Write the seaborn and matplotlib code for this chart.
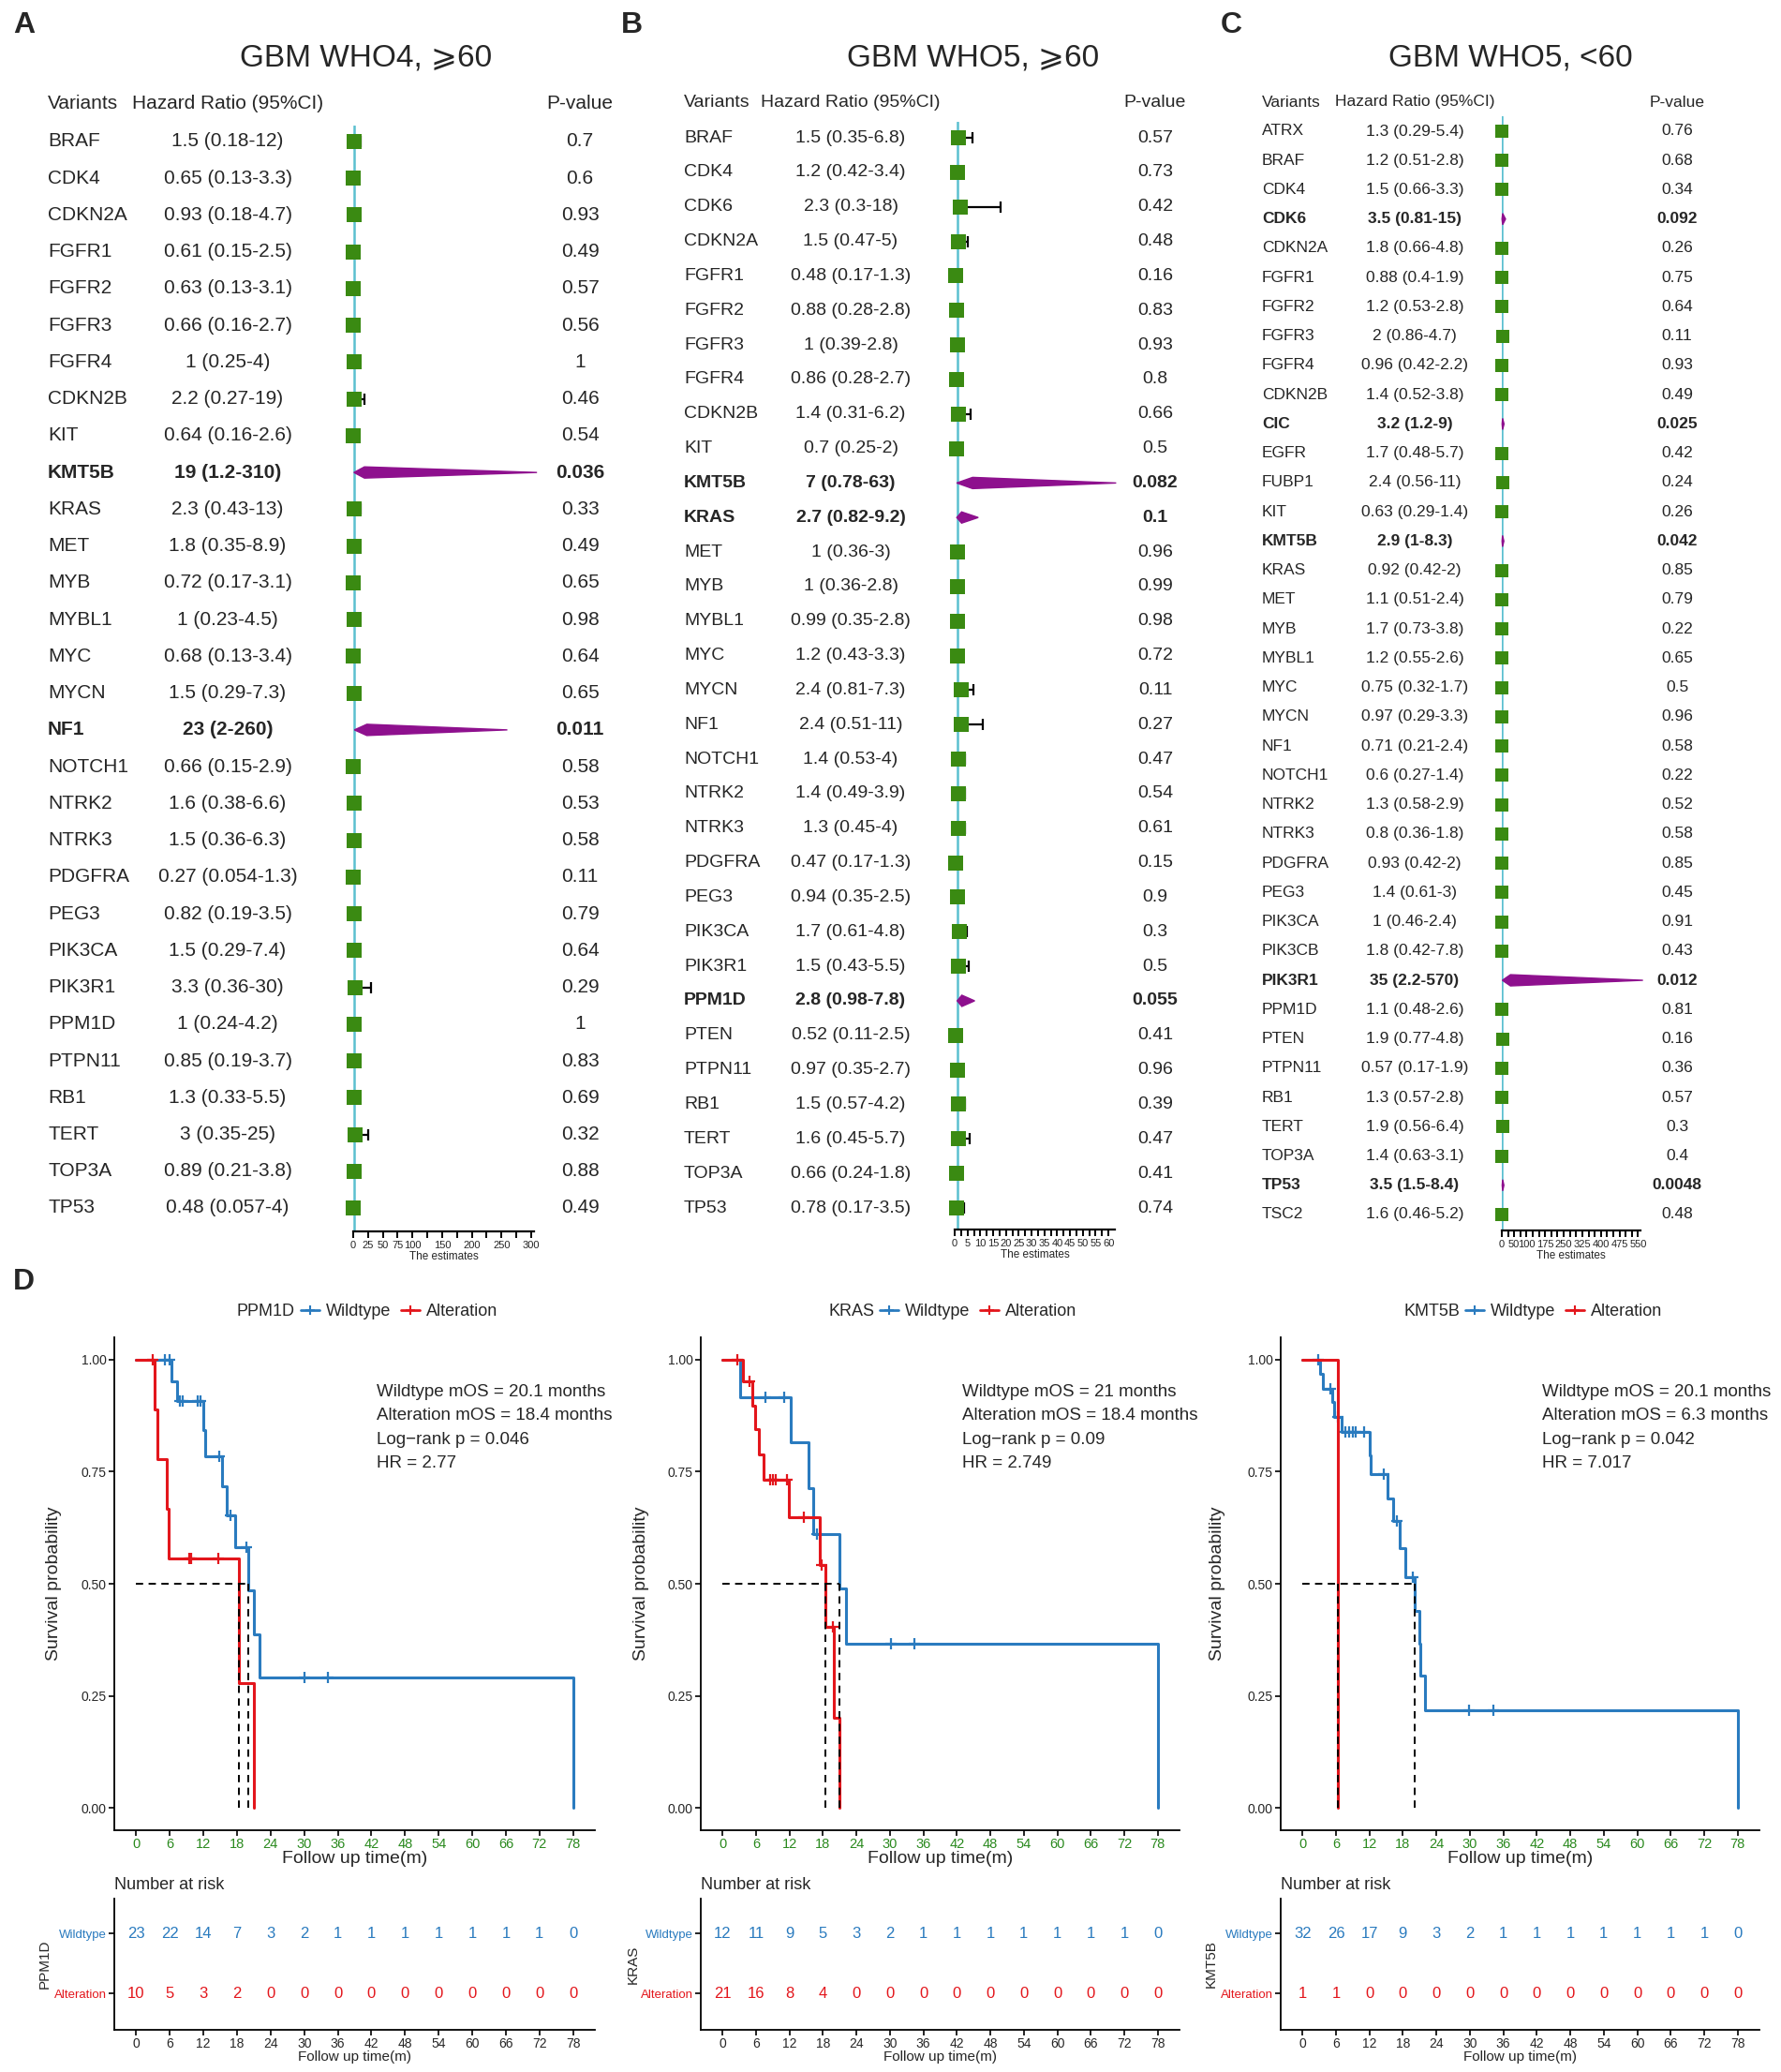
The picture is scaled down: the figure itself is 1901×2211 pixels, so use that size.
import numpy as np
import pandas as pd
import matplotlib
matplotlib.use('Agg')
import matplotlib.pyplot as plt
from matplotlib.patches import Polygon
from matplotlib.lines import Line2D
from matplotlib.transforms import blended_transform_factory
import seaborn as sns

# ---------------- forest data ----------------
a_genes = ['BRAF', 'CDK4', 'CDKN2A', 'FGFR1', 'FGFR2', 'FGFR3', 'FGFR4', 'CDKN2B', 'KIT', 'KMT5B',
           'KRAS', 'MET', 'MYB', 'MYBL1', 'MYC', 'MYCN', 'NF1', 'NOTCH1', 'NTRK2', 'NTRK3',
           'PDGFRA', 'PEG3', 'PIK3CA', 'PIK3R1', 'PPM1D', 'PTPN11', 'RB1', 'TERT', 'TOP3A', 'TP53']
a_hr = [1.5, 0.65, 0.93, 0.61, 0.63, 0.66, 1, 2.2, 0.64, 19,
        2.3, 1.8, 0.72, 1, 0.68, 1.5, 23, 0.66, 1.6, 1.5,
        0.27, 0.82, 1.5, 3.3, 1, 0.85, 1.3, 3, 0.89, 0.48]
a_lo = [0.18, 0.13, 0.18, 0.15, 0.13, 0.16, 0.25, 0.27, 0.16, 1.2,
        0.43, 0.35, 0.17, 0.23, 0.13, 0.29, 2, 0.15, 0.38, 0.36,
        0.054, 0.19, 0.29, 0.36, 0.24, 0.19, 0.33, 0.35, 0.21, 0.057]
a_hi = [12, 3.3, 4.7, 2.5, 3.1, 2.7, 4, 19, 2.6, 310,
        13, 8.9, 3.1, 4.5, 3.4, 7.3, 260, 2.9, 6.6, 6.3,
        1.3, 3.5, 7.4, 30, 4.2, 3.7, 5.5, 25, 3.8, 4]
a_p = [0.7, 0.6, 0.93, 0.49, 0.57, 0.56, 1, 0.46, 0.54, 0.036,
       0.33, 0.49, 0.65, 0.98, 0.64, 0.65, 0.011, 0.58, 0.53, 0.58,
       0.11, 0.79, 0.64, 0.29, 1, 0.83, 0.69, 0.32, 0.88, 0.49]

b_genes = ['BRAF', 'CDK4', 'CDK6', 'CDKN2A', 'FGFR1', 'FGFR2', 'FGFR3', 'FGFR4', 'CDKN2B', 'KIT',
           'KMT5B', 'KRAS', 'MET', 'MYB', 'MYBL1', 'MYC', 'MYCN', 'NF1', 'NOTCH1', 'NTRK2',
           'NTRK3', 'PDGFRA', 'PEG3', 'PIK3CA', 'PIK3R1', 'PPM1D', 'PTEN', 'PTPN11', 'RB1', 'TERT',
           'TOP3A', 'TP53']
b_hr = [1.5, 1.2, 2.3, 1.5, 0.48, 0.88, 1, 0.86, 1.4, 0.7,
        7, 2.7, 1, 1, 0.99, 1.2, 2.4, 2.4, 1.4, 1.4,
        1.3, 0.47, 0.94, 1.7, 1.5, 2.8, 0.52, 0.97, 1.5, 1.6,
        0.66, 0.78]
b_lo = [0.35, 0.42, 0.3, 0.47, 0.17, 0.28, 0.39, 0.28, 0.31, 0.25,
        0.78, 0.82, 0.36, 0.36, 0.35, 0.43, 0.81, 0.51, 0.53, 0.49,
        0.45, 0.17, 0.35, 0.61, 0.43, 0.98, 0.11, 0.35, 0.57, 0.45,
        0.24, 0.17]
b_hi = [6.8, 3.4, 18, 5, 1.3, 2.8, 2.8, 2.7, 6.2, 2,
        63, 9.2, 3, 2.8, 2.8, 3.3, 7.3, 11, 4, 3.9,
        4, 1.3, 2.5, 4.8, 5.5, 7.8, 2.5, 2.7, 4.2, 5.7,
        1.8, 3.5]
b_p = [0.57, 0.73, 0.42, 0.48, 0.16, 0.83, 0.93, 0.8, 0.66, 0.5,
       0.082, 0.1, 0.96, 0.99, 0.98, 0.72, 0.11, 0.27, 0.47, 0.54,
       0.61, 0.15, 0.9, 0.3, 0.5, 0.055, 0.41, 0.96, 0.39, 0.47,
       0.41, 0.74]

c_genes = ['ATRX', 'BRAF', 'CDK4', 'CDK6', 'CDKN2A', 'FGFR1', 'FGFR2', 'FGFR3', 'FGFR4', 'CDKN2B',
           'CIC', 'EGFR', 'FUBP1', 'KIT', 'KMT5B', 'KRAS', 'MET', 'MYB', 'MYBL1', 'MYC',
           'MYCN', 'NF1', 'NOTCH1', 'NTRK2', 'NTRK3', 'PDGFRA', 'PEG3', 'PIK3CA', 'PIK3CB', 'PIK3R1',
           'PPM1D', 'PTEN', 'PTPN11', 'RB1', 'TERT', 'TOP3A', 'TP53', 'TSC2']
c_hr = [1.3, 1.2, 1.5, 3.5, 1.8, 0.88, 1.2, 2, 0.96, 1.4,
        3.2, 1.7, 2.4, 0.63, 2.9, 0.92, 1.1, 1.7, 1.2, 0.75,
        0.97, 0.71, 0.6, 1.3, 0.8, 0.93, 1.4, 1, 1.8, 35,
        1.1, 1.9, 0.57, 1.3, 1.9, 1.4, 3.5, 1.6]
c_lo = [0.29, 0.51, 0.66, 0.81, 0.66, 0.4, 0.53, 0.86, 0.42, 0.52,
        1.2, 0.48, 0.56, 0.29, 1, 0.42, 0.51, 0.73, 0.55, 0.32,
        0.29, 0.21, 0.27, 0.58, 0.36, 0.42, 0.61, 0.46, 0.42, 2.2,
        0.48, 0.77, 0.17, 0.57, 0.56, 0.63, 1.5, 0.46]
c_hi = [5.4, 2.8, 3.3, 15, 4.8, 1.9, 2.8, 4.7, 2.2, 3.8,
        9, 5.7, 11, 1.4, 8.3, 2, 2.4, 3.8, 2.6, 1.7,
        3.3, 2.4, 1.4, 2.9, 1.8, 2, 3, 2.4, 7.8, 570,
        2.6, 4.8, 1.9, 2.8, 6.4, 3.1, 8.4, 5.2]
c_p = [0.76, 0.68, 0.34, 0.092, 0.26, 0.75, 0.64, 0.11, 0.93, 0.49,
       0.025, 0.42, 0.24, 0.26, 0.042, 0.85, 0.79, 0.22, 0.65, 0.5,
       0.96, 0.58, 0.22, 0.52, 0.58, 0.85, 0.45, 0.91, 0.43, 0.012,
       0.81, 0.16, 0.36, 0.57, 0.3, 0.4, 0.0048, 0.48]

a_ticks = [0, 25, 50, 75, 100, 125, 150, 175, 200, 225, 250, 275, 300]
a_ticklabels = ['0', '25', '50', '75', '100', '', '150', '', '200', '', '250', '', '300']
b_ticks = [0, 2.5, 5, 7.5, 10, 12.5, 15, 17.5, 20, 22.5, 25, 27.5, 30, 32.5, 35, 37.5, 40,
           42.5, 45, 47.5, 50, 52.5, 55, 57.5, 60]
b_ticklabels = ['0', '', '5', '', '10', '', '15', '', '20', '', '25', '', '30', '', '35', '',
                '40', '', '45', '', '50', '', '55', '', '60']
c_ticks = [0, 25, 50, 75, 100, 125, 150, 175, 200, 225, 250, 275, 300, 325, 350, 375, 400,
           425, 450, 475, 500, 525, 550]
c_ticklabels = ['0', '', '50', '', '100', '', '', '175', '', '', '250', '', '', '325', '', '',
                '400', '', '', '475', '', '', '550']

titles = ['GBM WHO4, \u2a7e60', 'GBM WHO5, \u2a7e60', 'GBM WHO5, <60']

# ---------------- survival data ----------------
months = [0, 6, 12, 18, 24, 30, 36, 42, 48, 54, 60, 66, 72, 78]

ppm1d_wt_t = [0, 6.3, 7.3, 12.0, 12.4, 15.3, 16.2, 17.6, 20.1, 21.1, 22.1, 78]
ppm1d_wt_s = [1, 0.951, 0.907, 0.843, 0.784, 0.718, 0.653, 0.582, 0.485, 0.388, 0.291, 0]
ppm1d_wt_cens = [5.1, 6.0, 7.8, 8.3, 11.0, 11.5, 14.8, 16.9, 19.7, 30.1, 34.3]
ppm1d_alt_t = [0, 3.3, 3.8, 5.5, 5.85, 18.4, 21.1]
ppm1d_alt_s = [1, 0.889, 0.778, 0.667, 0.556, 0.278, 0]
ppm1d_alt_cens = [3.0, 9.4, 9.8, 14.6]
ppm1d_median = [20.1, 18.4]
ppm1d_notes = ['Wildtype mOS = 20.1 months', 'Alteration mOS = 18.4 months',
               'Log\u2212rank p = 0.046', 'HR = 2.77']
ppm1d_risk_wt = [23, 22, 14, 7, 3, 2, 1, 1, 1, 1, 1, 1, 1, 0]
ppm1d_risk_alt = [10, 5, 3, 2, 0, 0, 0, 0, 0, 0, 0, 0, 0, 0]

kras_wt_t = [0, 3.2, 12.3, 15.4, 16.2, 21.0, 22.1, 78]
kras_wt_s = [1, 0.917, 0.815, 0.713, 0.611, 0.489, 0.367, 0]
kras_wt_cens = [7.7, 11.0, 16.9, 30.2, 34.4]
kras_alt_t = [0, 3.7, 5.4, 5.9, 6.5, 7.3, 11.8, 17.5, 18.4, 20.0, 20.95]
kras_alt_s = [1, 0.952, 0.897, 0.846, 0.788, 0.732, 0.649, 0.542, 0.404, 0.2, 0]
kras_alt_cens = [2.7, 4.9, 8.5, 9.0, 9.5, 11.6, 14.6, 17.7, 19.8]
kras_median = [21, 18.4]
kras_notes = ['Wildtype mOS = 21 months', 'Alteration mOS = 18.4 months',
              'Log\u2212rank p = 0.09', 'HR = 2.749']
kras_risk_wt = [12, 11, 9, 5, 3, 2, 1, 1, 1, 1, 1, 1, 1, 0]
kras_risk_alt = [21, 16, 8, 4, 0, 0, 0, 0, 0, 0, 0, 0, 0, 0]

kmt5b_wt_t = [0, 3.2, 3.7, 5.4, 5.75, 7.0, 12.0, 12.3, 15.2, 16.2, 17.5, 18.5, 20.1, 20.9,
              21.1, 22.0, 78]
kmt5b_wt_s = [1, 0.968, 0.935, 0.906, 0.873, 0.839, 0.787, 0.745, 0.69, 0.64, 0.58, 0.515,
              0.44, 0.367, 0.296, 0.217, 0]
kmt5b_wt_cens = [2.9, 5.0, 6.4, 7.7, 8.4, 9.1, 9.6, 11.1, 14.5, 16.9, 19.8, 29.9, 34.2]
kmt5b_alt_t = [0, 6.3]
kmt5b_alt_s = [1, 0]
kmt5b_alt_cens = []
kmt5b_median = [20.1, 6.3]
kmt5b_notes = ['Wildtype mOS = 20.1 months', 'Alteration mOS = 6.3 months',
               'Log\u2212rank p = 0.042', 'HR = 7.017']
kmt5b_risk_wt = [32, 26, 17, 9, 3, 2, 1, 1, 1, 1, 1, 1, 1, 0]
kmt5b_risk_alt = [1, 1, 0, 0, 0, 0, 0, 0, 0, 0, 0, 0, 0, 0]

# ---------------- style ----------------
sns.set_theme(style='white')
plt.rcParams['font.family'] = ['Liberation Sans', 'DejaVu Sans']
KM_FONT = ['Liberation Sans', 'DejaVu Sans']
GREEN = '#3a8a12'
PURPLE = '#8e108e'
REF = '#5bc0d0'
BLUE = '#2a7bbf'
RED = '#e3161c'
TICKGREEN = '#2a8a1e'

W, H = 1901, 2211
fig = plt.figure(figsize=(W / 100, H / 100), dpi=100)


def px_axes(l, t, r, b):
    return fig.add_axes([l / W, 1 - b / H, (r - l) / W, (b - t) / H])


def fy(y):
    return 1 - y / H


def forest(genes, hr, lo, hi, pv, ticks, ticklabels, lay):
    n = len(genes)
    sp = (lay['last'] - lay['first']) / (n - 1)
    ax = px_axes(lay['x0'], lay['top'], lay['x1'], lay['axis'])
    ax.set_xlim(0, lay['xmax'])
    ax.set_ylim((lay['axis'] - lay['first']) / sp, (lay['top'] - lay['first']) / sp)
    df = pd.DataFrame({'gene': genes, 'hr': hr, 'lo': lo, 'hi': hi, 'p': pv})
    df['row'] = np.arange(n)
    df['sig'] = df['p'] <= 0.1
    ax.axvline(1, color=REF, lw=1.8, zorder=1)
    ns = df[~df['sig']]
    ax.errorbar(ns['hr'], ns['row'], xerr=[ns['hr'] - ns['lo'], ns['hi'] - ns['hr']],
                fmt='none', ecolor='black', elinewidth=1.6, capsize=4, capthick=1.6,
                zorder=2, clip_on=False)
    sns.scatterplot(data=ns, x='hr', y='row', marker='s', s=lay['sq'] ** 2, color=GREEN,
                    linewidth=0, ax=ax, legend=False, zorder=3, clip_on=False)
    hh = 6 / sp
    for _, r in df[df['sig']].iterrows():
        ax.add_patch(Polygon([(r.lo, r.row), (r.hr, r.row - hh), (r.hi, r.row), (r.hr, r.row + hh)],
                             closed=True, color=PURPLE, clip_on=False, zorder=3))
    tr = blended_transform_factory(fig.transFigure, ax.transData)
    fs = lay['fs']
    hy = (lay['header'] - lay['first']) / sp
    ax.text(lay['var'] / W, hy, 'Variants', transform=tr, ha='left', va='center', fontsize=fs)
    ax.text(lay['hrx'] / W, hy, 'Hazard Ratio (95%CI)', transform=tr, ha='center', va='center', fontsize=fs)
    ax.text(lay['px'] / W, hy, 'P-value', transform=tr, ha='center', va='center', fontsize=fs)
    for _, r in df.iterrows():
        wt = 'bold' if r.sig else 'normal'
        ax.text(lay['var'] / W, r.row, r.gene, transform=tr, ha='left', va='center', fontsize=fs, fontweight=wt)
        ax.text(lay['hrx'] / W, r.row, '{:g} ({:g}-{:g})'.format(r.hr, r.lo, r.hi), transform=tr,
                ha='center', va='center', fontsize=fs, fontweight=wt)
        ax.text(lay['px'] / W, r.row, '{:g}'.format(r.p), transform=tr, ha='center', va='center',
                fontsize=fs, fontweight=wt)
    for s in ['top', 'right', 'left']:
        ax.spines[s].set_visible(False)
    ax.spines['bottom'].set_color('black')
    ax.spines['bottom'].set_linewidth(1.6)
    ax.set_yticks([])
    ax.set_xticks(ticks)
    ax.set_xticklabels(ticklabels, fontsize=8)
    ax.tick_params(axis='x', bottom=True, length=5, width=1.4, pad=2, color='black')
    ax.set_xlabel('The estimates', fontsize=8.5, labelpad=1)
    ax.set_ylabel('')
    fig.text(lay['title_x'] / W, fy(62), lay['title'], ha='center', va='center', fontsize=24,
             family=['Liberation Sans', 'DejaVu Sans'])
    fig.text(lay['letter_x'] / W, fy(27), lay['letter'], ha='left', va='center', fontsize=23,
             fontweight='bold')


forest(a_genes, a_hr, a_lo, a_hi, a_p, a_ticks, a_ticklabels,
       dict(x0=377, x1=570, xmax=305, top=134, axis=1314, first=151, last=1289, header=111,
            var=51, hrx=243, px=619, fs=15, sq=12, title=titles[0], title_x=391, letter='A', letter_x=14))
forest(b_genes, b_hr, b_lo, b_hi, b_p, b_ticks, b_ticklabels,
       dict(x0=1019, x1=1190, xmax=62.5, top=130, axis=1312, first=147, last=1289, header=110,
            var=730, hrx=908, px=1233, fs=14, sq=12, title=titles[1], title_x=1039, letter='B', letter_x=663))
forest(c_genes, c_hr, c_lo, c_hi, c_p, c_ticks, c_ticklabels,
       dict(x0=1603, x1=1751, xmax=560, top=124, axis=1313, first=140, last=1296, header=109,
            var=1347, hrx=1510, px=1790, fs=12.5, sq=10, title=titles[2], title_x=1612, letter='C', letter_x=1303))

fig.text(14 / W, fy(1368), 'D', ha='left', va='center', fontsize=23, fontweight='bold')


def step_value(t, s, x):
    idx = np.searchsorted(np.array(t), np.array(x, dtype=float), side='right') - 1
    return np.array(s)[idx]


def km_panel(lay, gene, wt_t, wt_s, wt_c, alt_t, alt_s, alt_c, med, notes, risk_wt, risk_alt):
    l, r = lay['l'], lay['r']
    ax = px_axes(l, 1427, r, 1953)
    ax.set_xlim(-3.9, 81.9)
    ax.set_ylim(-0.05, 1.05)
    for t, s, c, col in [(wt_t, wt_s, wt_c, BLUE), (alt_t, alt_s, alt_c, RED)]:
        sns.lineplot(x=t, y=s, drawstyle='steps-post', color=col, lw=2.2, ax=ax,
                     estimator=None, sort=False)
        if len(c):
            ax.plot(c, step_value(t, s, c), '+', color=col, ms=9, mew=1.6)
    ax.hlines(0.5, 0, max(med), colors='black', linestyles=(0, (4, 3)), lw=1.4)
    ax.vlines(med, 0, 0.5, colors='black', linestyles=(0, (4, 3)), lw=1.4)
    for i, line in enumerate(notes):
        ax.text(43, 0.928 - i * 0.053, line, fontsize=13.5, family=KM_FONT, va='center', ha='left')
    sns.despine(ax=ax)
    for s in ['left', 'bottom']:
        ax.spines[s].set_color('black')
        ax.spines[s].set_linewidth(1.3)
    ax.set_xticks(months)
    ax.set_xticklabels([str(m) for m in months], fontsize=10.5, color=TICKGREEN, family=KM_FONT)
    ax.set_yticks([0, 0.25, 0.5, 0.75, 1])
    ax.set_yticklabels(['0.00', '0.25', '0.50', '0.75', '1.00'], fontsize=10, family=KM_FONT)
    ax.tick_params(left=True, bottom=True, length=4, width=1.2, color='black', pad=2)
    ax.set_xlabel('Follow up time(m)', fontsize=14, family=KM_FONT, labelpad=0)
    ax.set_ylabel('Survival probability', fontsize=14, family=KM_FONT)
    ax.yaxis.set_label_coords((lay['ylab'] - l) / (r - l), 0.5)

    # legend
    fig.text(lay['leg'] / W, fy(1400), gene, ha='right', va='center', fontsize=13, family=KM_FONT)
    handles = [Line2D([], [], color=BLUE, lw=2, marker='+', ms=7, mew=1.5),
               Line2D([], [], color=RED, lw=2, marker='+', ms=7, mew=1.5)]
    fig.legend(handles, ['Wildtype', 'Alteration'], loc='center left',
               bbox_to_anchor=((lay['leg'] + 6) / W, fy(1400)), ncol=2, frameon=False,
               prop={'family': KM_FONT, 'size': 13}, handlelength=1.1, handletextpad=0.4,
               columnspacing=0.6, borderpad=0, borderaxespad=0)

    # risk table
    rt = px_axes(l, 2026, r, 2166)
    rt.set_xlim(-3.9, 81.9)
    rt.set_ylim(-0.6, 1.58)
    for m, a, b in zip(months, risk_wt, risk_alt):
        rt.text(m, 1, str(a), color=BLUE, ha='center', va='center', fontsize=12, family=KM_FONT)
        rt.text(m, 0, str(b), color=RED, ha='center', va='center', fontsize=12, family=KM_FONT)
    sns.despine(ax=rt)
    for s in ['left', 'bottom']:
        rt.spines[s].set_color('black')
        rt.spines[s].set_linewidth(1.3)
    rt.set_yticks([0, 1])
    rt.set_yticklabels(['Alteration', 'Wildtype'], fontsize=9.5, family=KM_FONT)
    for lab, col in zip(rt.get_yticklabels(), [RED, BLUE]):
        lab.set_color(col)
    rt.set_xticks(months)
    rt.set_xticklabels([str(m) for m in months], fontsize=10, family=KM_FONT)
    rt.tick_params(left=True, bottom=True, length=4, width=1.2, color='black', pad=2)
    rt.set_xlabel('Follow up time(m)', fontsize=11, family=KM_FONT, labelpad=0)
    rt.set_ylabel(gene, fontsize=11, family=KM_FONT)
    rt.yaxis.set_label_coords((lay['rlab'] - l) / (r - l), 0.5)
    fig.text(l / W, fy(2011), 'Number at risk', ha='left', va='center', fontsize=13, family=KM_FONT)


km_panel(dict(l=122, r=635, ylab=66, rlab=55, leg=315), 'PPM1D',
         ppm1d_wt_t, ppm1d_wt_s, ppm1d_wt_cens, ppm1d_alt_t, ppm1d_alt_s, ppm1d_alt_cens,
         ppm1d_median, ppm1d_notes, ppm1d_risk_wt, ppm1d_risk_alt)
km_panel(dict(l=748, r=1259, ylab=693, rlab=683, leg=933), 'KRAS',
         kras_wt_t, kras_wt_s, kras_wt_cens, kras_alt_t, kras_alt_s, kras_alt_cens,
         kras_median, kras_notes, kras_risk_wt, kras_risk_alt)
km_panel(dict(l=1367, r=1878, ylab=1308, rlab=1300, leg=1558), 'KMT5B',
         kmt5b_wt_t, kmt5b_wt_s, kmt5b_wt_cens, kmt5b_alt_t, kmt5b_alt_s, kmt5b_alt_cens,
         kmt5b_median, kmt5b_notes, kmt5b_risk_wt, kmt5b_risk_alt)

fig.savefig('out.png', dpi=100)
